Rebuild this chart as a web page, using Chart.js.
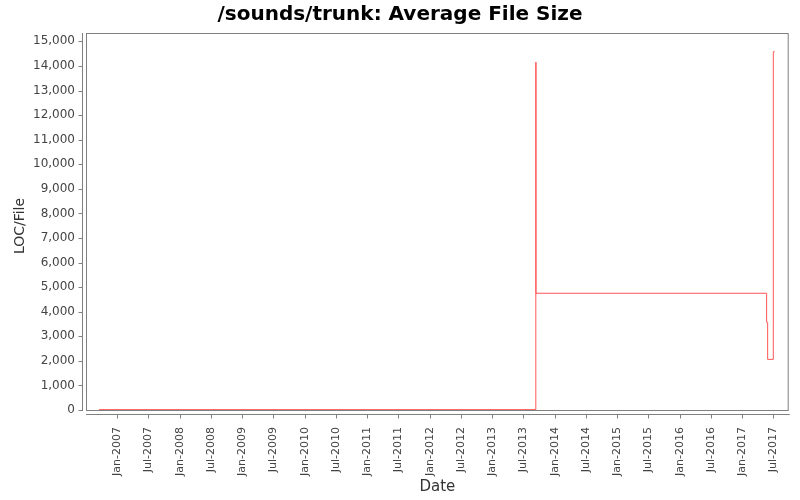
<!DOCTYPE html>
<html>
<head>
<meta charset="utf-8">
<script src="https://cdn.jsdelivr.net/npm/chart.js@4.4.0/dist/chart.umd.min.js"></script>
<style>
html, body { margin: 0; padding: 0; background: #fff; }
</style>
</head>
<body>
<canvas id="avg_chart" width="800" height="500"></canvas>
<script>
// values
var dates = ['2006-09-16', '2013-09-12', '2013-09-13', '2017-05-23', '2017-05-29', '2017-07-01', '2017-07-09'];
var locPerFile = [15, 14150, 4750, 3570, 2060, 14580, 14580];

var xTickLabels = ['Jan-2007', 'Jul-2007', 'Jan-2008', 'Jul-2008', 'Jan-2009', 'Jul-2009', 'Jan-2010', 'Jul-2010',
    'Jan-2011', 'Jul-2011', 'Jan-2012', 'Jul-2012', 'Jan-2013', 'Jul-2013', 'Jan-2014', 'Jul-2014',
    'Jan-2015', 'Jul-2015', 'Jan-2016', 'Jul-2016', 'Jan-2017', 'Jul-2017'];
var yTicks = [0, 1000, 2000, 3000, 4000, 5000, 6000, 7000, 8000, 9000, 10000, 11000, 12000, 13000, 14000, 15000];

var months = { Jan: 0, Jul: 6 };
function labelToTime(lbl) {
    var p = lbl.split('-');
    return Date.UTC(+p[1], months[p[0]], 1);
}
var xTickValues = xTickLabels.map(labelToTime);

var points = dates.map(function(d, i) {
    return { x: new Date(d).getTime(), y: locPerFile[i] };
});

var font = 'DejaVu Sans';

// plot box plus detached axis lines, like the original
var axisBox = {
    id: 'axisBox',
    beforeDatasetsDraw: function(chart) {
        var a = chart.chartArea, ctx = chart.ctx;
        var xs = chart.scales.x, ys = chart.scales.y;
        ctx.save();
        ctx.strokeStyle = '#808080';
        ctx.lineWidth = 1;
        ctx.strokeRect(a.left + 0.5, a.top + 0.5, a.right - a.left - 1, a.bottom - a.top);

        ctx.beginPath();
        var ay = a.bottom + 4.5;
        ctx.moveTo(a.left, ay);
        ctx.lineTo(a.right + 1, ay);
        xs.ticks.forEach(function(t) {
            var px = Math.round(xs.getPixelForValue(t.value)) + 0.5;
            ctx.moveTo(px, ay);
            ctx.lineTo(px, ay + 4);
        });
        var ax = a.left - 3.5;
        ctx.moveTo(ax, a.top);
        ctx.lineTo(ax, a.bottom + 1);
        ys.ticks.forEach(function(t) {
            var py = Math.round(ys.getPixelForValue(t.value)) + 0.5;
            ctx.moveTo(ax, py);
            ctx.lineTo(ax - 4, py);
        });
        ctx.stroke();

        // y axis title
        ctx.translate(20, 226);
        ctx.rotate(-Math.PI / 2);
        ctx.fillStyle = '#333';
        ctx.font = '14px "' + font + '"';
        ctx.textAlign = 'center';
        ctx.textBaseline = 'middle';
        ctx.fillText('LOC/File', 0, 0);
        ctx.restore();
    }
};

var ctx = document.getElementById('avg_chart').getContext('2d');
new Chart(ctx, {
    type: 'line',
    data: {
        datasets: [
            {
                label: 'LOC/File',
                data: points,
                stepped: 'before',
                borderColor: '#ff5555',
                borderWidth: 1,
                pointRadius: 0,
                fill: false
            }
        ]
    },
    options: {
        responsive: false,
        animation: false,
        devicePixelRatio: 1,
        layout: { padding: { left: 11.3, right: 11.3, top: 0, bottom: 0 } },
        plugins: {
            legend: { display: false },
            tooltip: { enabled: false },
            title: {
                display: true,
                text: '/sounds/trunk: Average File Size',
                color: '#000',
                font: { family: font, size: 20, weight: 'bold' },
                padding: { top: 3, bottom: 6 }
            }
        },
        scales: {
            x: {
                type: 'linear',
                min: Date.UTC(2006, 6, 2),
                max: Date.UTC(2017, 8, 29),
                grid: { display: false, drawTicks: false },
                border: { display: false },
                afterBuildTicks: function(scale) {
                    scale.ticks = xTickValues.map(function(v) { return { value: v }; });
                },
                afterFit: function(scale) {
                    scale.height = 90;
                    scale.paddingLeft = 0;
                    scale.paddingRight = 0;
                },
                ticks: {
                    autoSkip: false,
                    minRotation: 90,
                    maxRotation: 90,
                    padding: 17,
                    color: '#444',
                    font: { family: font, size: 11 },
                    callback: function(v) { return xTickLabels[xTickValues.indexOf(v)]; }
                },
                title: {
                    display: true,
                    text: 'Date',
                    color: '#333',
                    font: { family: font, size: 15 },
                    padding: { top: 0, bottom: 4 }
                }
            },
            y: {
                min: 0,
                max: 15340,
                grid: { display: false, drawTicks: false },
                border: { display: false },
                afterBuildTicks: function(scale) {
                    scale.ticks = yTicks.map(function(v) { return { value: v }; });
                },
                afterFit: function(scale) { scale.width = 86 - 11.3; },
                ticks: {
                    padding: 11,
                    color: '#444',
                    font: { family: font, size: 12 },
                    callback: function(v) { return v.toLocaleString('en-US'); }
                },
                title: { display: false }
            }
        }
    },
    plugins: [axisBox]
});
</script>
</body>
</html>
